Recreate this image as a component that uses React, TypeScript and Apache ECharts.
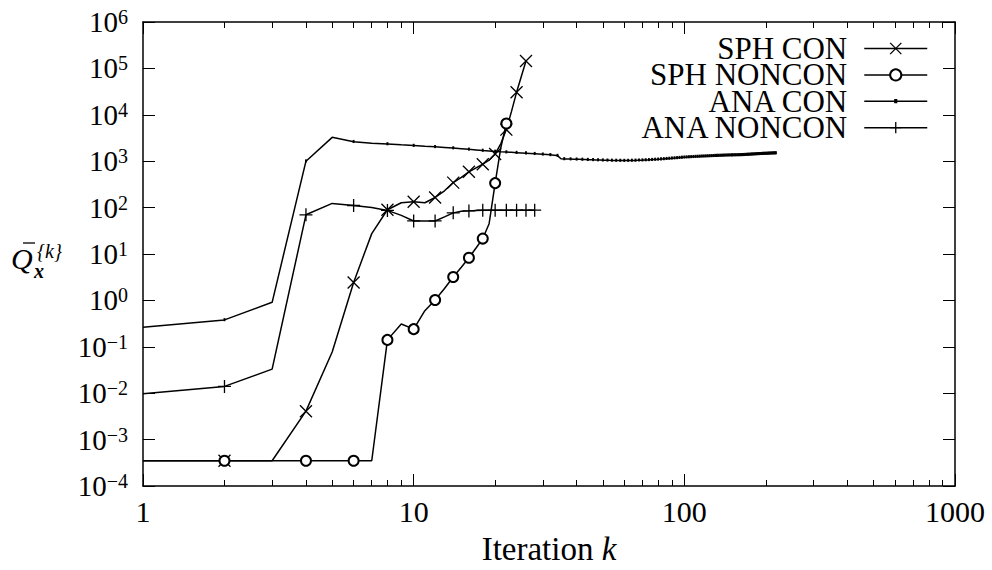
import { useEffect, useRef } from 'react';
import * as echarts from 'echarts';

const FONT = 'Liberation Serif';

// ---- axes ----
const xMajorTicks = [1, 10, 100, 1000];
const xMinorTicks = [2, 3, 4, 5, 6, 7, 8, 9, 20, 30, 40, 50, 60, 70, 80, 90, 200, 300, 400, 500, 600, 700, 800, 900];
const yMajorTicks = [1e-4, 1e-3, 1e-2, 1e-1, 1, 10, 100, 1e3, 1e4, 1e5, 1e6];

// ---- series (value at iteration k = index + 1) ----
const seriesNames = ['SPH CON', 'SPH NONCON', 'ANA CON', 'ANA NONCON'];

const sphCon = [
  3.5e-4, 3.5e-4, 3.5e-4, 0.0041, 0.077, 2.44, 27.5, 90, 127, 134,
  127, 165, 230, 345, 450, 590, 720, 860, 1050, 1435,
  2400, 4800, 12000, 30500, 68000, 144000,
];

const sphNoncon = [
  3.5e-4, 3.5e-4, 3.5e-4, 3.5e-4, 3.5e-4, 3.5e-4, 3.5e-4, 0.141, 0.31, 0.24,
  0.6, 1.02, 1.8, 3.2, 5.2, 8.3, 13.5, 21.5, 45, 337,
  2000, 6500,
];

const anaNoncon = [
  0.0097, 0.014, 0.033, 70, 123, 111, 100, 87, 68, 51.5,
  51.5, 51.5, 63, 77, 83, 85, 87, 88, 88, 88,
  88, 88, 88, 88, 88, 88, 88, 88,
];

const anaCon = [
  0.265, 0.38, 0.91, 1000, 3270, 2630, 2450, 2350, 2250, 2170,
  2100, 2040, 1980, 1920, 1860, 1800, 1750, 1700, 1660, 1620,
  1590, 1570, 1550, 1530, 1510, 1490, 1470, 1450, 1430, 1410,
  1390, 1370, 1350, 1320, 1130, 1120, 1115, 1110, 1105, 1100,
  1095, 1090, 1085, 1080, 1075, 1070, 1065, 1060, 1056, 1052,
  1048, 1045, 1042, 1040, 1038, 1036, 1034, 1032, 1030, 1030,
  1031, 1033, 1035, 1037, 1039, 1041, 1044, 1047, 1050, 1053,
  1057, 1061, 1065, 1069, 1073, 1078, 1083, 1088, 1093, 1098,
  1103, 1108, 1114, 1120, 1126, 1132, 1138, 1144, 1150, 1156,
  1162, 1168, 1174, 1180, 1186, 1192, 1198, 1204, 1210, 1215,
  1220, 1224, 1228, 1232, 1236, 1240, 1244, 1248, 1252, 1256,
  1259, 1262, 1265, 1268, 1271, 1274, 1277, 1280, 1283, 1286,
  1289, 1292, 1295, 1298, 1301, 1304, 1307, 1310, 1313, 1316,
  1318, 1320, 1322, 1324, 1326, 1328, 1330, 1332, 1334, 1336,
  1338, 1340, 1342, 1344, 1346, 1348, 1350, 1352, 1354, 1356,
  1357, 1358, 1359, 1360, 1361, 1362, 1363, 1364, 1365, 1366,
  1368, 1370, 1372, 1374, 1376, 1378, 1380, 1383, 1386, 1389,
  1392, 1395, 1398, 1401, 1404, 1407, 1410, 1413, 1416, 1419,
  1422, 1425, 1428, 1431, 1434, 1437, 1440, 1442, 1444, 1446,
  1448, 1450, 1452, 1454, 1456, 1458, 1460, 1462, 1464, 1466,
  1468, 1470, 1472, 1474, 1476, 1478, 1480, 1482, 1484, 1486,
  1488, 1490, 1492, 1494, 1495, 1496, 1498, 1500,
];

const SYM_CROSS = 'path://M0,0L10,10M10,0L0,10';
const SYM_PLUS = 'path://M5,0L5,10M0,5L10,5';
const SYM_DOT = 'path://M0,0M10,10M4.2,3.5h1.6v2.6h-1.6z';

function toPoints(values: number[]) {
  return values.map((v, i) => {
    const k = i + 1;
    return k % 2 === 0 ? { value: [k, v] } : { value: [k, v], symbol: 'none' };
  });
}

function supLabel(v: number) {
  const e = Math.round(Math.log10(v));
  return `10{sup|${e < 0 ? '\u2212' + -e : e}}`;
}

export default function App() {
  const ref = useRef<HTMLDivElement>(null);

  useEffect(() => {
    if (!ref.current) return;
    const chart = echarts.init(ref.current, undefined, { renderer: 'svg' });

    const lineStyle = { color: '#000', width: 1.5 };
    const baseSeries = (name: string, values: number[], symbol: string, size: number, itemStyle: any) => ({
      name,
      type: 'line',
      xAxisIndex: 0,
      yAxisIndex: 0,
      data: toPoints(values),
      symbol,
      symbolSize: size,
      showAllSymbol: true,
      lineStyle,
      itemStyle,
      emphasis: { disabled: true },
      z: 3,
    });

    const tickAxisX = (position: 'top' | 'bottom', values: number[], len: number, withLabels: boolean, withLine: boolean) => ({
      type: 'log',
      logBase: 10,
      min: 1,
      max: 1000,
      position,
      gridIndex: 0,
      axisLine: { show: withLine, lineStyle: { color: '#000', width: 1.5 } },
      axisTick: { show: true, inside: true, length: len, customValues: values, lineStyle: { color: '#000', width: 1 } },
      axisLabel: withLabels
        ? { show: true, customValues: values, margin: 10, fontSize: 30, fontFamily: FONT, color: '#000', formatter: (v: number) => String(Math.round(v)) }
        : { show: false },
      splitLine: { show: false },
      minorTick: { show: false },
    });

    const option: any = {
      animation: false,
      backgroundColor: '#fff',
      textStyle: { fontFamily: FONT },
      grid: { left: 143, right: 37, top: 22, bottom: 81, containLabel: false },
      legend: {
        orient: 'vertical',
        right: 64,
        top: 33,
        padding: 0,
        align: 'right',
        itemWidth: 63,
        itemHeight: 14,
        itemGap: -4.6,
        selectedMode: false,
        data: seriesNames,
        textStyle: { fontSize: 31, fontFamily: FONT, color: '#000', padding: [0, 12, 0, 0] },
        itemStyle: { color: '#000', borderColor: '#000', borderWidth: 1.3 },
        lineStyle: { color: '#000', width: 1.5 },
      },
      xAxis: [
        {
          ...tickAxisX('bottom', xMajorTicks, 12, true, true),
          name: 'Iteration {it|k}',
          nameLocation: 'middle',
          nameGap: 46,
          nameTextStyle: {
            fontSize: 33,
            fontFamily: FONT,
            color: '#000',
            rich: { it: { fontSize: 33, fontFamily: FONT, fontStyle: 'italic', color: '#000' } },
          },
        },
        tickAxisX('bottom', xMinorTicks, 6, false, false),
        tickAxisX('top', xMajorTicks, 12, false, true),
        tickAxisX('top', xMinorTicks, 6, false, false),
      ],
      yAxis: [
        {
          type: 'log',
          logBase: 10,
          min: 1e-4,
          max: 1e6,
          position: 'left',
          axisLine: { show: true, lineStyle: { color: '#000', width: 1.5 } },
          axisTick: { show: true, inside: true, length: 12, customValues: yMajorTicks, lineStyle: { color: '#000', width: 1 } },
          axisLabel: {
            show: true,
            customValues: yMajorTicks,
            margin: 15,
            fontSize: 29,
            lineHeight: 30,
            fontFamily: FONT,
            color: '#000',
            formatter: supLabel,
            rich: { sup: { fontSize: 20, lineHeight: 20, verticalAlign: 'top', fontFamily: FONT, color: '#000' } },
          },
          splitLine: { show: false },
        },
        {
          type: 'log',
          logBase: 10,
          min: 1e-4,
          max: 1e6,
          position: 'right',
          axisLine: { show: true, lineStyle: { color: '#000', width: 1.5 } },
          axisTick: { show: true, inside: true, length: 12, customValues: yMajorTicks, lineStyle: { color: '#000', width: 1 } },
          axisLabel: { show: false },
          splitLine: { show: false },
        },
      ],
      graphic: [
        { type: 'text', x: 11, y: 258, style: { text: 'Q', font: 'italic 30px Liberation Serif', fill: '#000', verticalAlign: 'middle', align: 'left' } },
        { type: 'line', shape: { x1: 23, y1: 243, x2: 35, y2: 243 }, style: { stroke: '#000', lineWidth: 1.3 } },
        { type: 'text', x: 37, y: 251, style: { text: '{k}', font: 'italic 20px Liberation Serif', fill: '#000', verticalAlign: 'middle', align: 'left' } },
        { type: 'text', x: 34, y: 271, style: { text: 'x', font: 'italic bold 20px Liberation Serif', fill: '#000', verticalAlign: 'middle', align: 'left' } },
      ],
      series: [
        baseSeries(seriesNames[0], sphCon, SYM_CROSS, 12, { color: '#000', borderColor: '#000', borderWidth: 1.3 }),
        baseSeries(seriesNames[1], sphNoncon, 'emptyCircle', 10, { color: '#000', borderColor: '#000', borderWidth: 1.2 }),
        baseSeries(seriesNames[2], anaCon, SYM_DOT, 12, { color: '#000', borderColor: '#000', borderWidth: 0 }),
        baseSeries(seriesNames[3], anaNoncon, SYM_PLUS, 13, { color: '#000', borderColor: '#000', borderWidth: 1.3 }),
      ],
    };

    chart.setOption(option);
    return () => chart.dispose();
  }, []);

  return <div ref={ref} style={{ position: 'fixed', left: 0, top: 0, width: 992, height: 570, background: '#fff' }} />;
}
